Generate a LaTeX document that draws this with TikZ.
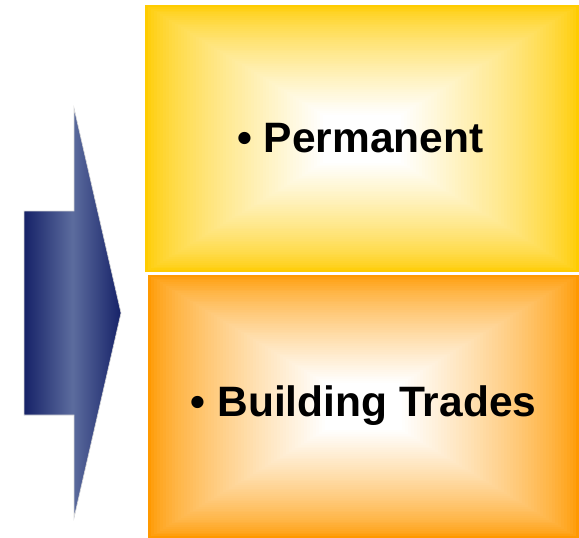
\documentclass[tikz,border=0pt]{standalone}
\usepackage{fontspec}
\setmainfont{Liberation Sans}
\definecolor{ycol}{RGB}{255,204,0}
\definecolor{ocol}{RGB}{255,153,0}
\definecolor{navydark}{RGB}{22,34,104}
\definecolor{navylight}{RGB}{92,108,158}
\tikzset{
  boxlabel/.style={font=\fontsize{42.5}{50}\selectfont\bfseries, text=black, inner sep=0pt, anchor=base},
  arrowshape/.style={left color=navydark, right color=navydark, middle color=navylight, draw=gray!30, line width=0.6pt}
}
\begin{document}
\begin{tikzpicture}[x=1pt,y=-1pt]
\useasboundingbox (0,0) rectangle (579,538);
% top box gradient
\foreach \i in {0,...,59}{
  \pgfmathsetmacro\t{\i/59}
  \pgfmathsetmacro\p{100*(\t^0.7)}
  \pgfmathsetmacro\xa{145+\t*0.82*217}
  \pgfmathsetmacro\xb{579-\t*0.82*217}
  \pgfmathsetmacro\ya{5+\t*0.82*133.6}
  \pgfmathsetmacro\yb{272.2-\t*0.82*133.6}
  \fill[white!\p!ycol] (\xa,\ya) rectangle (\xb,\yb);
}
% bottom box gradient
\foreach \i in {0,...,59}{
  \pgfmathsetmacro\t{\i/59}
  \pgfmathsetmacro\p{100*(\t^0.7)}
  \pgfmathsetmacro\xa{148+\t*0.82*215.5}
  \pgfmathsetmacro\xb{579-\t*0.82*215.5}
  \pgfmathsetmacro\ya{275+\t*0.82*131.5}
  \pgfmathsetmacro\yb{538-\t*0.82*131.5}
  \fill[white!\p!ocol] (\xa,\ya) rectangle (\xb,\yb);
}
% arrow
\path[arrowshape] (24,211) -- (74,211) -- (74,108) -- (121,313) -- (74,518) -- (74,415) -- (24,415) -- cycle;
% labels
\node[boxlabel] (perm) at (360.5,152) {\textbullet\ Permanent};
\node[boxlabel] (build) at (363.5,416) {\textbullet\ Building Trades};
\end{tikzpicture}
\end{document}
